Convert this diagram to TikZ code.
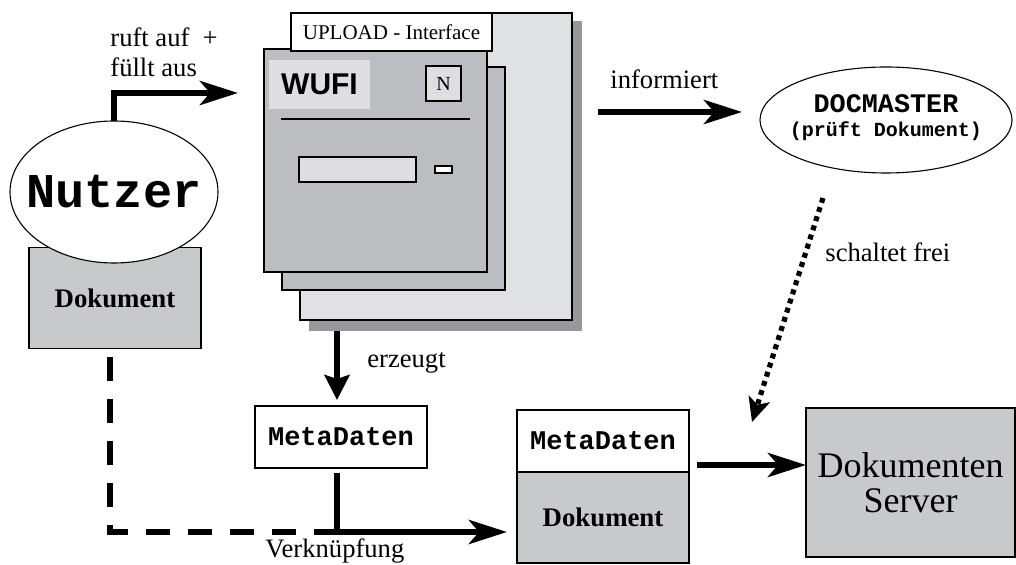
\documentclass[tikz,border=0pt]{standalone}
\usepackage{fontspec}
\setmainfont{Liberation Serif}
\newfontfamily\monof{Liberation Mono}
\newfontfamily\sansf{Liberation Sans}
\usetikzlibrary{arrows.meta,shapes.geometric}
\definecolor{shadowgray}{RGB}{152,152,156}
\definecolor{backgray}{RGB}{224,225,227}
\definecolor{boxgray}{RGB}{188,189,192}
\definecolor{docgray}{RGB}{200,201,203}
\definecolor{lightfield}{RGB}{222,222,224}
\begin{document}
\begin{tikzpicture}[x=0.5pt,y=-0.5pt,
  boxst/.style={draw=black, line width=0.55pt, rectangle, inner sep=0pt, outer sep=0pt},
  ellst/.style={draw=black, line width=0.55pt, fill=white, ellipse, inner sep=0pt, outer sep=0pt},
  lbl/.style={anchor=base west, inner sep=0pt, font=\fontsize{13.3}{16}\selectfont},
  monobold/.style={font=\fontsize{13.5}{16}\monof\bfseries},
  serifbold/.style={font=\fontsize{13.4}{16}\selectfont\bfseries},
  arr/.style={line width=3.2pt, -{Stealth[length=19pt,width=12pt,inset=5pt]}},
  arrv/.style={line width=3.4pt, -{Stealth[length=12.5pt,width=12.5pt,inset=2pt]}},
  dotarr/.style={line width=2.6pt, dash pattern=on 2.5pt off 2.3pt, -{Stealth[length=12pt,width=11pt,inset=3pt]}},
  dashst/.style={line width=3.4pt, dash pattern=on 12pt off 9pt},
  solidst/.style={line width=3.4pt}
]
\useasboundingbox (0,0) rectangle (1016,565);

% ---- UPLOAD interface stack ----
\fill[shadowgray] (309,21) rectangle (582,331);
\node[boxst, fill=backgray, minimum width=136pt, minimum height=153.5pt] (back) at (436,166.5) {};
\node[boxst, fill=boxgray, minimum width=111.5pt, minimum height=111.5pt] (middle) at (393.5,178.5) {};
\node[boxst, fill=boxgray, minimum width=111.5pt, minimum height=111.5pt] (front) at (375.5,160.5) {};
\node[boxst, fill=white, minimum width=100.5pt, minimum height=19pt, font=\fontsize{10.5}{12}\selectfont] (upl) at (391.5,32) {UPLOAD - Interface};
\node[fill=lightfield, inner sep=0pt, minimum width=50.5pt, minimum height=24.5pt, font=\fontsize{15}{18}\sansf\bfseries] (wufi) at (319.5,84.5) {WUFI};
\node[boxst, fill=lightfield, minimum width=17.5pt, minimum height=17.5pt, font=\fontsize{10}{12}\selectfont] (nbox) at (443.5,83.5) {N};
\draw[line width=0.55pt] (281,119) -- (470,119);
\node[boxst, fill=lightfield, minimum width=58.5pt, minimum height=12.5pt] (field) at (357.5,169.5) {};
\node[boxst, fill=white, minimum width=8.5pt, minimum height=3.5pt] (btn) at (443.5,169.5) {};

% ---- Nutzer ----
\node[boxst, fill=docgray, minimum width=86pt, minimum height=50.5pt, serifbold] (dok1) at (115,298) {\raisebox{-3pt}{Dokument}};
\node[ellst, minimum width=104pt, minimum height=71pt] (nutzer) at (114,192) {};
\node[inner sep=0pt, font=\fontsize{24.3}{28}\monof\bfseries] (nutzertxt) at (nutzer.center) {Nutzer};

% ---- DOCMASTER ----
\node[ellst, minimum width=126pt, minimum height=53pt] (docm) at (886,120) {};
\node[inner sep=0pt, align=center, font=\monof\bfseries] (docmtxt) at ([yshift=1pt]docm.center)
  {\fontsize{13.4}{16}\selectfont DOCMASTER\\\fontsize{10}{13}\selectfont(prüft Dokument)};

% ---- MetaDaten ----
\node[boxst, fill=white, minimum width=86pt, minimum height=31pt, monobold] (meta1) at (341,437) {MetaDaten};

% ---- combined ----
\node[boxst, fill=white, minimum width=86pt, minimum height=31pt, monobold] (meta2) at (603,441) {MetaDaten};
\node[boxst, fill=docgray, minimum width=86pt, minimum height=45.5pt, serifbold] (dok2) at (603,517.5) {Dokument};

% ---- server ----
\node[boxst, fill=docgray, minimum width=104.5pt, minimum height=74.5pt, align=center, font=\fontsize{18}{17.5}\selectfont] (server) at (910.5,482.5) {Dokumenten\\Server};

% ---- coordinates for free ends ----
\coordinate (callEnd) at (238,93);
\coordinate (infS) at (598,112);
\coordinate (dS) at (823,198);
\coordinate (dE) at (752,422);
\coordinate (erS) at (337,331);
\coordinate (vkS) at (320,532);
\coordinate (srvS) at (697,465);

% ---- connectors ----
\draw[arr] (nutzer.north) |- (callEnd);
\draw[arr, shorten >=9pt] (infS) -- (infS -| docm.west);
\draw[dotarr] (dS) -- (dE);
\draw[arrv, shorten >=3pt] (erS) -- (erS |- meta1.north);
\draw[dashst] ([xshift=-2.5pt,yshift=-4.5pt]dok1.south) |- (vkS);
\draw[solidst, shorten <=2.5pt] (erS |- meta1.south) -- (erS |- vkS);
\draw[arr, shorten >=5pt] (vkS) -- (vkS -| dok2.west);
\draw[arr] (srvS) -- (srvS -| server.west);

% ---- labels ----
\node[lbl] (l1) at (110,47) {ruft auf\ \ +};
\node[lbl] (l2) at (110,77) {füllt aus};
\node[lbl] (l3) at (610,89) {informiert};
\node[lbl] (l4) at (825,262) {schaltet frei};
\node[lbl] (l5) at (367,368) {erzeugt};
\node[lbl] (l6) at (265,558) {Verknüpfung};
\end{tikzpicture}
\end{document}
